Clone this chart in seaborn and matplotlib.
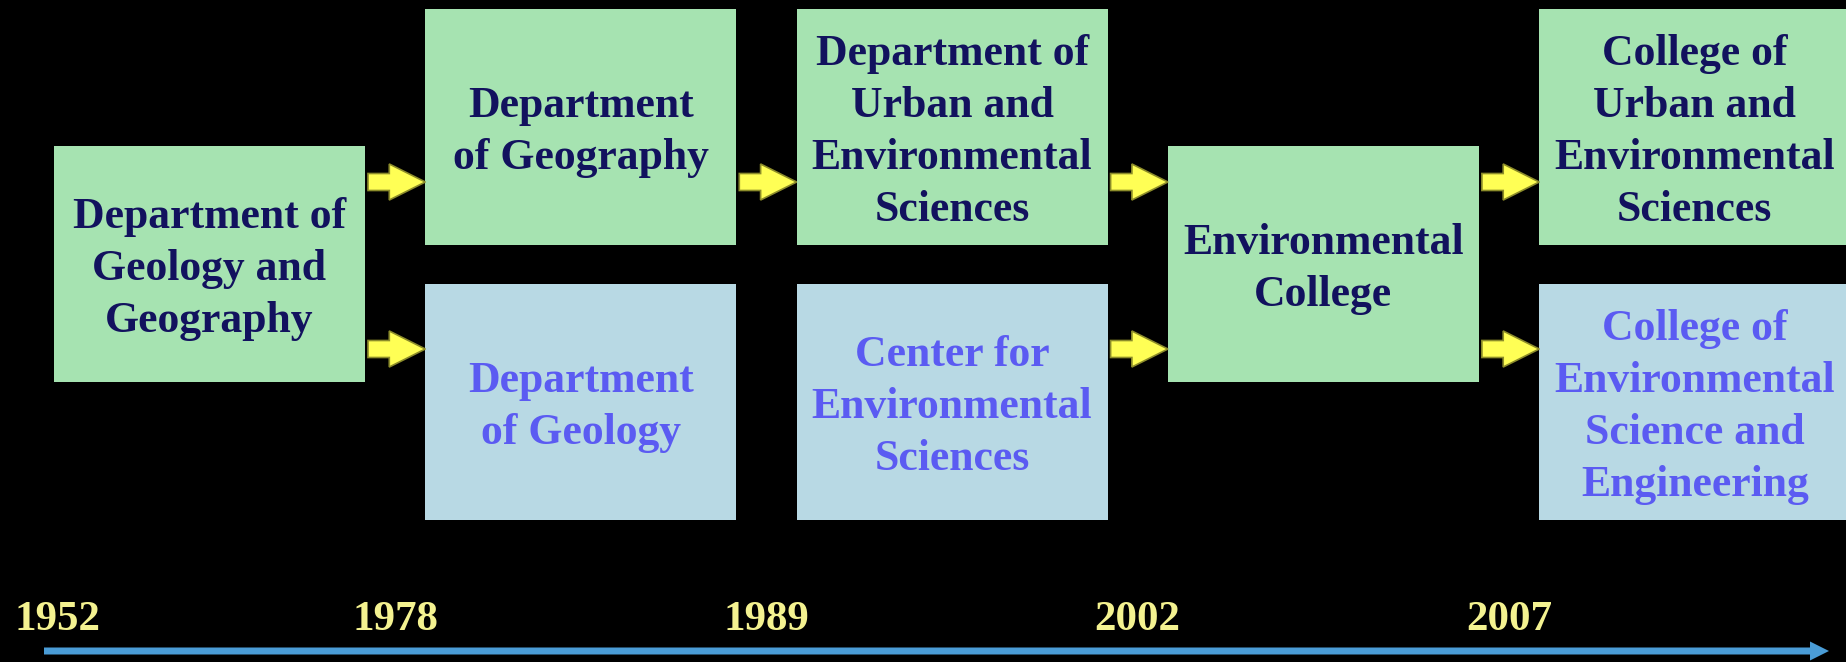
import matplotlib.pyplot as plt
import matplotlib.patches as mpatches
import seaborn as sns

sns.set_style("white")
plt.rcParams['font.family'] = ['Liberation Serif', 'DejaVu Serif']

# -----------------------------
# DATA
# -----------------------------
years = [1952, 1978, 1989, 2002, 2007]

# unit: column (period index), row (top / bottom / middle), label, kind
unit_cols = [0, 1, 1, 2, 2, 3, 4, 4]
unit_rows = ["mid", "top", "bot", "top", "bot", "mid", "top", "bot"]
unit_labels = [
    "Department of\nGeology and\nGeography",
    "Department\nof Geography",
    "Department\nof Geology",
    "Department of\nUrban and\nEnvironmental\nSciences",
    "Center for\nEnvironmental\nSciences",
    "Environmental\nCollege",
    "College of\nUrban and\nEnvironmental\nSciences",
    "College of\nEnvironmental\nScience and\nEngineering",
]
unit_kinds = ["green", "green", "blue", "green", "blue", "green", "green", "blue"]

# transitions (from unit index -> to unit index)
links_from = [0, 0, 1, 3, 4, 5, 5]
links_to = [1, 2, 3, 5, 5, 6, 7]

# -----------------------------
# STYLE / LAYOUT
# -----------------------------
fill = {"green": "#A6E3B1", "blue": "#B8D9E4"}
text_color = {"green": "#12125E", "blue": "#5B5BF2"}
row_top = {"top": 9, "bot": 284, "mid": 146}
box_w, box_h = 311, 236
col_left0, col_step = 54, 371.3

W, H = 1846, 662
fig = plt.figure(figsize=(W / 100, H / 100), dpi=100, facecolor="black")
ax = fig.add_axes([0, 0, 1, 1])
ax.set_facecolor("black")
ax.set_xlim(0, W)
ax.set_ylim(H, 0)
ax.axis("off")


def box_geom(i):
    x = col_left0 + col_step * unit_cols[i]
    y = row_top[unit_rows[i]]
    return x, y


# boxes
for i, label in enumerate(unit_labels):
    x, y = box_geom(i)
    ax.add_patch(mpatches.Rectangle((x, y), box_w, box_h,
                                    facecolor=fill[unit_kinds[i]],
                                    edgecolor="none", zorder=1))
    ax.text(x + box_w / 2, y + box_h / 2 + 5, label, ha="center", va="center",
            fontsize=31.5, fontweight="bold", color=text_color[unit_kinds[i]],
            linespacing=1.38, zorder=3)

# yellow transition arrows
arrow_y = {"top": 182, "bot": 349}
for a, b in zip(links_from, links_to):
    xa, _ = box_geom(a)
    xb, _ = box_geom(b)
    start = xa + box_w + 3
    yrow = unit_rows[b] if unit_rows[b] != "mid" else unit_rows[a]
    y = arrow_y[yrow]
    ax.add_patch(mpatches.FancyArrow(start, y, xb - start, 0,
                                     width=17, head_width=36, head_length=36,
                                     length_includes_head=True,
                                     facecolor="#FFFF55", edgecolor="#8C8C2A",
                                     linewidth=1.2, zorder=2))

# timeline
ax.add_patch(mpatches.FancyArrow(44, 651, 1829 - 44, 0, width=7,
                                 head_width=19, head_length=19,
                                 length_includes_head=True,
                                 facecolor="#4A9CD6", edgecolor="none", zorder=2))

for k, yr in enumerate(years):
    if k == 0:
        ax.text(14, 620, str(yr), ha="left", va="center", fontsize=31,
                fontweight="bold", color="#F4F290")
    else:
        gx = col_left0 + col_step * k - (col_step - box_w) / 2
        ax.text(gx, 620, str(yr), ha="center", va="center", fontsize=31,
                fontweight="bold", color="#F4F290")

plt.savefig("out.png", dpi=100, facecolor="black")
